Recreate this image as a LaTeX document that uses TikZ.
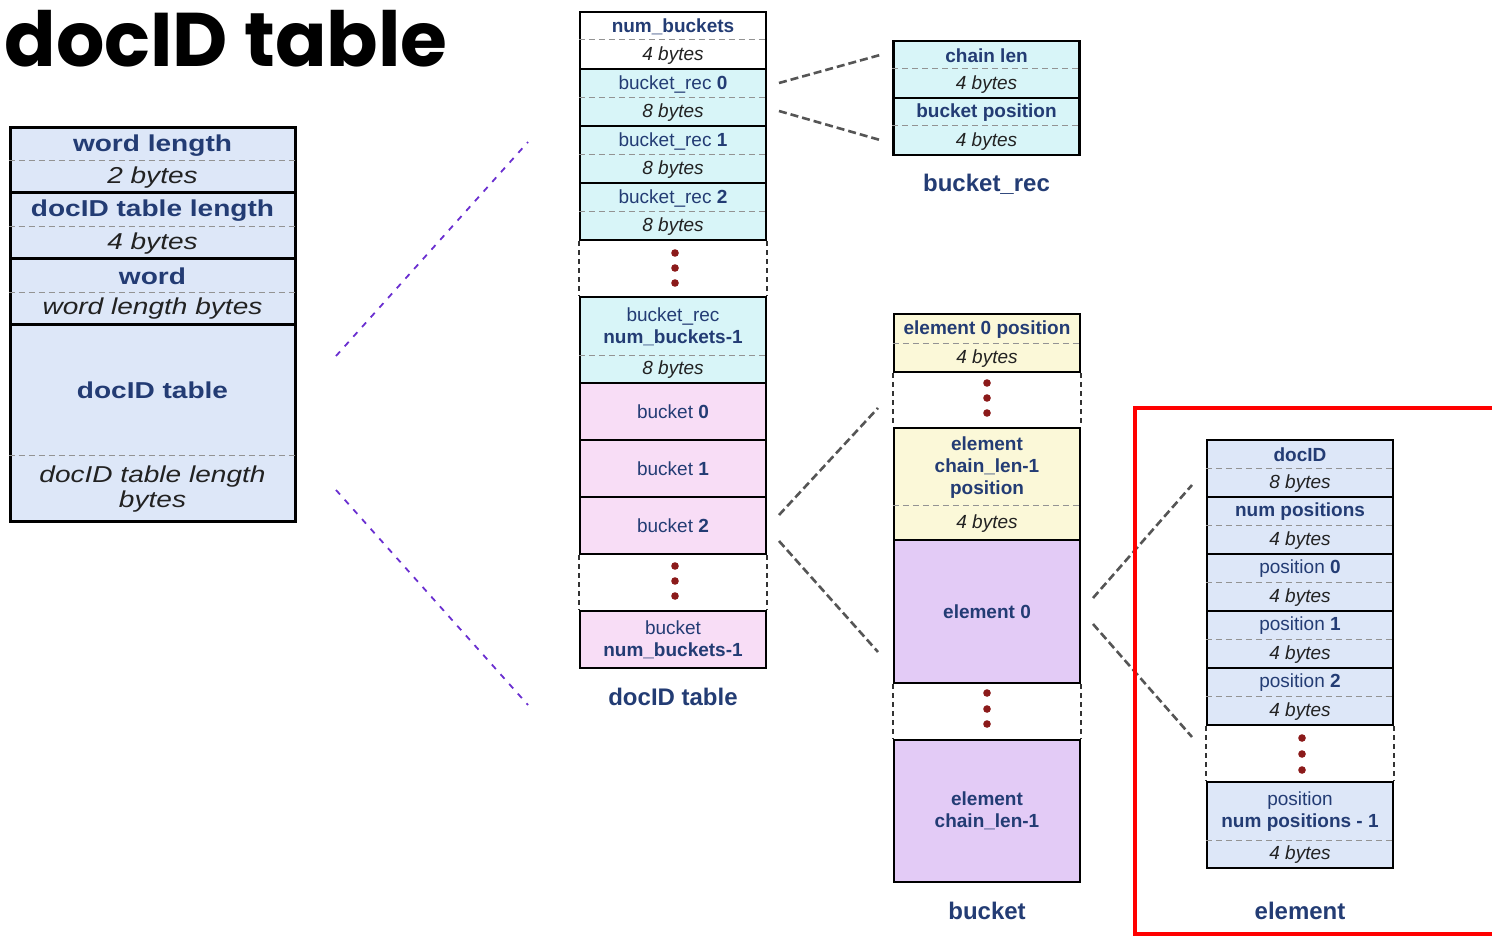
\documentclass[tikz,border=0pt]{standalone}
\usepackage{fontspec}
\setmainfont{Liberation Sans}
\newfontfamily\titlefont{Poppins}
\newfontfamily\widefont[FakeStretch=1.22]{Liberation Sans}

\definecolor{txtblue}{HTML}{233C74}
\definecolor{sizeblack}{HTML}{222222}
\definecolor{recfill}{HTML}{D8F5F8}
\definecolor{bktfill}{HTML}{F8DDF6}
\definecolor{posfill}{HTML}{FBF8D8}
\definecolor{elfill}{HTML}{E3CBF6}
\definecolor{blufill}{HTML}{DDE7F8}
\definecolor{dotred}{HTML}{8B1A1A}
\definecolor{zoomgray}{HTML}{555555}
\definecolor{zoomviolet}{HTML}{6A2FD0}

\tikzset{
  cellbox/.style={draw=black, line width=1.2pt, minimum width=93pt, inner sep=0pt,
    align=center, text=txtblue, font=\fontsize{9.5}{11}\selectfont},
  celltxt/.style={inner sep=0pt, align=center, text=txtblue, font=\fontsize{9.5}{11}\selectfont},
  sizetxt/.style={inner sep=0pt, align=center, text=sizeblack, font=\fontsize{9.5}{11}\selectfont\itshape},
  divider/.style={draw=gray!85, line width=0.5pt, dash pattern=on 3pt off 2pt},
  gapside/.style={draw=black!80, line width=1.2pt, dash pattern=on 2.5pt off 2pt},
  zoomline/.style={draw=zoomgray, line width=1.3pt, dash pattern=on 4pt off 2pt},
  leftzoom/.style={draw=zoomviolet, line width=0.9pt, dash pattern=on 3pt off 3.5pt},
  caption/.style={inner sep=0pt, text=txtblue, font=\fontsize{12}{14}\selectfont\bfseries}
}

% name, x, top, bottom, divider, fill, upper text, lower text
\newcommand{\twocell}[8]{%
  \node[cellbox, fill=#6, minimum height={(#4-#3)*0.5pt}] (#1) at (#2,{(#3+#4)/2}) {};
  \draw[divider] (#1.west |- 0,#5) -- (#1.east |- 0,#5);
  \node[celltxt] (#1-top) at (#2,{(#3+#5)/2+1}) {#7};
  \node[sizetxt] (#1-bot) at (#2,{(#5+#4)/2+1}) {#8};
}
% three dots of a gap
\newcommand{\gapdots}[4]{%
  \fill[dotred] (#1,#2) circle (1.9pt) (#1,#3) circle (1.9pt) (#1,#4) circle (1.9pt);
}

\begin{document}
\begin{tikzpicture}[x=0.5pt,y=-0.5pt]
    \useasboundingbox (0,0) rectangle (1492,936);

    \node[anchor=base west, inner sep=0pt, font=\titlefont\bfseries\fontsize{38}{38}\selectfont] (title) at (4,67) {docID table};

    % left: the word record
    \begin{scope}[cellbox/.append style={minimum width=142.5pt, line width=1.5pt},
        celltxt/.append style={font=\widefont\fontsize{11.5}{13}\selectfont\bfseries},
        sizetxt/.append style={font=\widefont\fontsize{11.5}{12.5}\selectfont\itshape}]
    \twocell{wlen}{152.5}{128}{193}{161}{blufill}{word length}{2 bytes}
    \twocell{tlen}{152.5}{193}{258}{227}{blufill}{docID table length}{4 bytes}
    \twocell{word}{152.5}{258}{324}{292}{blufill}{word}{word length bytes}
    \twocell{dtab}{152.5}{324}{521}{455}{blufill}{docID table}{docID table length\\bytes}
    \end{scope}

    % docID table
    \twocell{nb}{673}{12}{69}{40}{white}{\textbf{num\_buckets}}{4 bytes}
    \twocell{rec0}{673}{69}{126}{98}{recfill}{bucket\_rec \textbf{0}}{8 bytes}
    \twocell{rec1}{673}{126}{183}{155}{recfill}{bucket\_rec \textbf{1}}{8 bytes}
    \twocell{rec2}{673}{183}{240}{212}{recfill}{bucket\_rec \textbf{2}}{8 bytes}
    \twocell{recN}{673}{297}{383}{355}{recfill}{bucket\_rec\\\textbf{num\_buckets-1}}{8 bytes}
    \node[cellbox, fill=bktfill, minimum height=28.5pt] (bk0) at (673,411.5) {bucket \textbf{0}};
    \node[cellbox, fill=bktfill, minimum height=28.5pt] (bk1) at (673,468.5) {bucket \textbf{1}};
    \node[cellbox, fill=bktfill, minimum height=28.5pt] (bk2) at (673,525.5) {bucket \textbf{2}};
    \node[cellbox, fill=bktfill, minimum height=28.5pt] (bkN) at (673,639.5) {bucket\\\textbf{num\_buckets-1}};
    \draw[gapside] (rec2.south west) -- (recN.north west);
    \draw[gapside] (rec2.south east) -- (recN.north east);
    \draw[gapside] (bk2.south west) -- (bkN.north west);
    \draw[gapside] (bk2.south east) -- (bkN.north east);
    \gapdots{675}{253}{268}{283}
    \gapdots{675}{566}{581}{596}
    \node[caption] (cap-tab) at (673,697) {docID table};

    % bucket_rec
    \twocell{chain}{986.5}{41}{98}{69}{recfill}{\textbf{chain len}}{4 bytes}
    \twocell{bpos}{986.5}{98}{155}{126}{recfill}{\textbf{bucket position}}{4 bytes}
    \node[caption] (cap-rec) at (986.5,184) {bucket\_rec};

    % bucket
    \twocell{ep0}{987}{314}{372}{343}{posfill}{\textbf{element 0 position}}{4 bytes}
    \twocell{epN}{987}{428}{540}{505}{posfill}{\textbf{element}\\\textbf{chain\_len-1}\\\textbf{position}}{4 bytes}
    \node[cellbox, fill=elfill, minimum height=71.5pt] (el0) at (987,611.5) {\textbf{element 0}};
    \node[cellbox, fill=elfill, minimum height=71pt] (elN) at (987,811) {\textbf{element}\\\textbf{chain\_len-1}};
    \draw[gapside] (ep0.south west) -- (epN.north west);
    \draw[gapside] (ep0.south east) -- (epN.north east);
    \draw[gapside] (el0.south west) -- (elN.north west);
    \draw[gapside] (el0.south east) -- (elN.north east);
    \gapdots{987}{383}{398}{413}
    \gapdots{987}{693}{709}{724}
    \node[caption] (cap-bkt) at (987,911) {bucket};

    % element
    \twocell{doc}{1300}{440}{497}{468}{blufill}{\textbf{docID}}{8 bytes}
    \twocell{np}{1300}{497}{554}{525}{blufill}{\textbf{num positions}}{4 bytes}
    \twocell{p0}{1300}{554}{611}{582}{blufill}{position \textbf{0}}{4 bytes}
    \twocell{p1}{1300}{611}{668}{639}{blufill}{position \textbf{1}}{4 bytes}
    \twocell{p2}{1300}{668}{725}{696}{blufill}{position \textbf{2}}{4 bytes}
    \twocell{pN}{1300}{782}{868}{840}{blufill}{position\\\textbf{num positions - 1}}{4 bytes}
    \draw[gapside] (p2.south west) -- (pN.north west);
    \draw[gapside] (p2.south east) -- (pN.north east);
    \gapdots{1302}{738}{754}{770}
    \node[caption] (cap-el) at (1300,911) {element};

    % zoom lines
    \coordinate (lz1) at (336,356);  \coordinate (lz2) at (528,142);
    \coordinate (lz3) at (336,490);  \coordinate (lz4) at (528,705);
    \draw[leftzoom] (lz1) -- (lz2);
    \draw[leftzoom] (lz3) -- (lz4);
    \coordinate (rz1) at (779,83);   \coordinate (rz2) at (880,55);
    \coordinate (rz3) at (779,111);  \coordinate (rz4) at (880,140);
    \draw[zoomline] (rz1) -- (rz2);
    \draw[zoomline] (rz3) -- (rz4);
    \coordinate (bz1) at (779,515);  \coordinate (bz2) at (878,408);
    \coordinate (bz3) at (779,541);  \coordinate (bz4) at (878,652);
    \draw[zoomline] (bz1) -- (bz2);
    \draw[zoomline] (bz3) -- (bz4);
    \coordinate (ez1) at (1093,598); \coordinate (ez2) at (1192,485);
    \coordinate (ez3) at (1093,624); \coordinate (ez4) at (1192,737);
    \draw[zoomline] (ez1) -- (ez2);
    \draw[zoomline] (ez3) -- (ez4);

    % highlight frame
    \draw[red, line width=2pt] (1492,408) -- (1135,408) -- (1135,934) -- (1492,934);

\end{tikzpicture}
\end{document}
